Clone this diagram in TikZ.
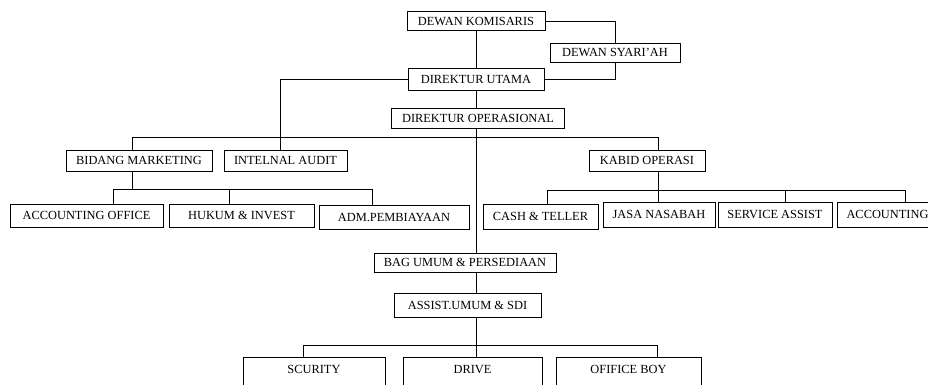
\documentclass[tikz,border=0pt]{standalone}
\usepackage{fontspec}
\setmainfont{Liberation Serif}
\usepackage{tikz}
\usetikzlibrary{calc}

\begin{document}
\begin{tikzpicture}[
    x=1pt, y=-1pt,
    kotak/.style={draw, line width=0.8pt, inner sep=0pt, text height=8.2pt, text depth=0pt, align=center, font=\fontsize{12.4}{14}\selectfont},
    bawah/.style={kotak, anchor=north, inner ysep=8pt, text depth=30pt},
    garis/.style={draw, line width=0.8pt}
]
    \useasboundingbox (0,0) rectangle (928,385);
    \clip (0,0) rectangle (928,385);

    % pimpinan
    \node[kotak, minimum width=138, minimum height=19] (dk) at (476,21) {DEWAN KOMISARIS};
    \node[kotak, minimum width=130, minimum height=19] (ds) at (615,52.5) {DEWAN SYARI'AH};
    \node[kotak, minimum width=136, minimum height=22] (du) at (476,79) {DIREKTUR UTAMA};
    \node[kotak, minimum width=173, minimum height=20] (dop) at (478,118) {DIREKTUR OPERASIONAL};

    % bidang
    \node[kotak, minimum width=146, minimum height=21] (bm) at (139,160.5) {BIDANG MARKETING};
    \node[kotak, minimum width=123, minimum height=21] (ia) at (285.5,160.5) {INTELNAL AUDIT};
    \node[kotak, minimum width=116, minimum height=21] (ko) at (647,160.5) {KABID OPERASI};

    \node[kotak, minimum width=153, minimum height=23] (ao) at (86.5,215.5) {ACCOUNTING OFFICE};
    \node[kotak, minimum width=145, minimum height=23] (hi) at (241.5,215.5) {HUKUM \& INVEST};
    \node[kotak, minimum width=150, minimum height=24] (adm) at (394,217) {ADM.PEMBIAYAAN};

    \node[kotak, minimum width=115, minimum height=25] (ct) at (540.5,216.5) {CASH \& TELLER};
    \node[kotak, minimum width=112, minimum height=25] (jn) at (659,214.5) {JASA NASABAH};
    \node[kotak, minimum width=114, minimum height=25] (sa) at (775,214.5) {SERVICE ASSIST};
    \node[kotak, minimum width=101, minimum height=25] (acc) at (887.5,214.5) {ACCOUNTING};

    % umum
    \node[kotak, minimum width=182, minimum height=19] (bu) at (465,262.5) {BAG UMUM \& PERSEDIAAN};
    \node[kotak, minimum width=147, minimum height=24] (au) at (467.5,305) {ASSIST.UMUM \& SDI};

    \node[bawah, minimum width=142] (sc) at (314,357) {SCURITY};
    \node[bawah, minimum width=139] (dr) at (472.5,357) {DRIVE};
    \node[bawah, minimum width=145] (ob) at (628.5,357) {OFIFICE BOY};

    % titik bantu
    \coordinate (sp) at (476,0);
    \coordinate (a-ia) at (280,79);
    \coordinate (t-l) at (132,137);
    \coordinate (t-r) at (658,137);
    \coordinate (m-l) at (113,189);
    \coordinate (m-c) at (229,189);
    \coordinate (m-r) at (372,189);
    \coordinate (o-l) at (547,190);
    \coordinate (o-s) at (785,190);
    \coordinate (o-r) at (905,190);
    \coordinate (u-l) at (303,345);
    \coordinate (u-r) at (657,345);

    \draw[garis] (dk.east) -| (ds.north);
    \draw[garis] (ds.south) |- (du.east);
    \draw[garis] (sp |- dk.south) -- (sp |- du.north);
    \draw[garis] (du.west) -- (a-ia) -- (a-ia |- ia.north);
    \draw[garis] (sp |- du.south) -- (sp |- dop.north);

    \draw[garis] (t-l) -- (t-r);
    \draw[garis] (t-l) -- (t-l |- bm.north);
    \draw[garis] (t-r) -- (t-r |- ko.north);
    \draw[garis] (sp |- dop.south) -- (sp |- bu.north);

    \draw[garis] (t-l |- bm.south) -- (t-l |- m-l);
    \draw[garis] (m-l) -- (m-r);
    \foreach \c/\n in {m-l/ao, m-c/hi, m-r/adm}
        \draw[garis] (\c) -- (\c |- \n.north);

    \draw[garis] (t-r |- ko.south) -- (t-r |- jn.north);
    \draw[garis] (o-l) -- (o-r);
    \foreach \c/\n in {o-l/ct, o-s/sa, o-r/acc}
        \draw[garis] (\c) -- (\c |- \n.north);

    \draw[garis] (sp |- bu.south) -- (sp |- au.north);
    \draw[garis] (sp |- au.south) -- (sp |- dr.north);
    \draw[garis] (u-l) -- (u-r);
    \foreach \c/\n in {u-l/sc, u-r/ob}
        \draw[garis] (\c) -- (\c |- \n.north);
\end{tikzpicture}
\end{document}
